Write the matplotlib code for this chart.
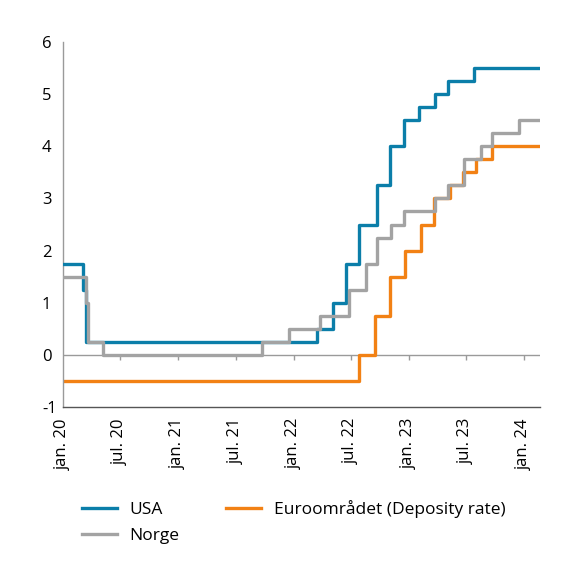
import numpy as np
import pandas as pd
import matplotlib
matplotlib.use("Agg")
import matplotlib.pyplot as plt

plt.rcParams['font.family'] = ['Open Sans', 'DejaVu Sans']
plt.rcParams['axes.unicode_minus'] = False

# rentebeslutninger (dato, nivå)
usa_dates = ["2020-01-01", "2020-03-04", "2020-03-16", "2022-03-17", "2022-05-05",
             "2022-06-16", "2022-07-28", "2022-09-22", "2022-11-03", "2022-12-15",
             "2023-02-02", "2023-03-23", "2023-05-04", "2023-07-27"]
usa_rates = [1.75, 1.25, 0.25, 0.5, 1.0, 1.75, 2.5, 3.25, 4.0, 4.5, 4.75, 5.0, 5.25, 5.5]

norge_dates = ["2020-01-01", "2020-03-13", "2020-03-20", "2020-05-08", "2021-09-24",
               "2021-12-17", "2022-03-25", "2022-06-24", "2022-08-19", "2022-09-23",
               "2022-11-04", "2022-12-16", "2023-03-24", "2023-05-05", "2023-06-23",
               "2023-08-18", "2023-09-22", "2023-12-15"]
norge_rates = [1.5, 1.0, 0.25, 0.0, 0.25, 0.5, 0.75, 1.25, 1.75, 2.25, 2.5, 2.75,
               3.0, 3.25, 3.75, 4.0, 4.25, 4.5]

euro_dates = ["2020-01-01", "2022-07-27", "2022-09-14", "2022-11-02", "2022-12-21",
              "2023-02-08", "2023-03-22", "2023-05-10", "2023-06-21", "2023-08-02",
              "2023-09-20"]
euro_rates = [-0.5, 0.0, 0.75, 1.5, 2.0, 2.5, 3.0, 3.25, 3.5, 3.75, 4.0]

end_date = "2024-02-20"
tick_dates = pd.date_range("2020-01-01", "2024-01-01", freq="6MS")
tick_labels = ["jan. 20", "jul. 20", "jan. 21", "jul. 21", "jan. 22",
               "jul. 22", "jan. 23", "jul. 23", "jan. 24"]


def steps(dates, rates):
    d = list(pd.to_datetime(dates)) + [pd.Timestamp(end_date)]
    r = list(rates) + [rates[-1]]
    return d, r


fig = plt.figure(figsize=(5.76, 5.68), dpi=100)
ax = fig.add_axes([0.109, 0.2835, 0.8285, 0.6425])

col_usa = "#0b7ea9"
col_norge = "#a3a3a3"
col_euro = "#f28114"

ax.axhline(0, color="#9a9a9a", lw=1.0, zorder=1)
ax.vlines(tick_dates[1:], -0.09, 0, color="#9a9a9a", lw=1.0, zorder=1)

d, r = steps(usa_dates, usa_rates)
ax.plot(d, r, drawstyle="steps-post", color=col_usa, lw=2.4, label="USA", zorder=3)
d, r = steps(norge_dates, norge_rates)
ax.plot(d, r, drawstyle="steps-post", color=col_norge, lw=2.4, label="Norge", zorder=4)
d, r = steps(euro_dates, euro_rates)
ax.plot(d, r, drawstyle="steps-post", color=col_euro, lw=2.4,
        label="Euroområdet (Deposity rate)", zorder=2)

ax.set_xlim(pd.Timestamp("2020-01-01"), pd.Timestamp(end_date))
ax.set_ylim(-1, 6)
ax.set_yticks(range(-1, 7))
ax.set_xticks(tick_dates)
ax.set_xticklabels(tick_labels, rotation=90, fontsize=12)
ax.tick_params(axis="x", length=0, pad=8)
ax.tick_params(axis="y", length=0, pad=15, labelsize=12)
for t in ax.get_yticklabels():
    t.set_horizontalalignment("left")

for s in ["top", "right"]:
    ax.spines[s].set_visible(False)
ax.spines["left"].set_color("#9a9a9a")
ax.spines["bottom"].set_color("#555555")
ax.spines["left"].set_linewidth(1.0)
ax.spines["bottom"].set_linewidth(1.0)

h, l = ax.get_legend_handles_labels()
fig.legend(h, l, ncol=2, loc="upper left", bbox_to_anchor=(0.13, 0.132),
           frameon=False, fontsize=12.5, handlelength=2.0, handletextpad=0.75,
           columnspacing=2.7, labelspacing=0.55, borderaxespad=0)

fig.savefig("out.png", dpi=100)
